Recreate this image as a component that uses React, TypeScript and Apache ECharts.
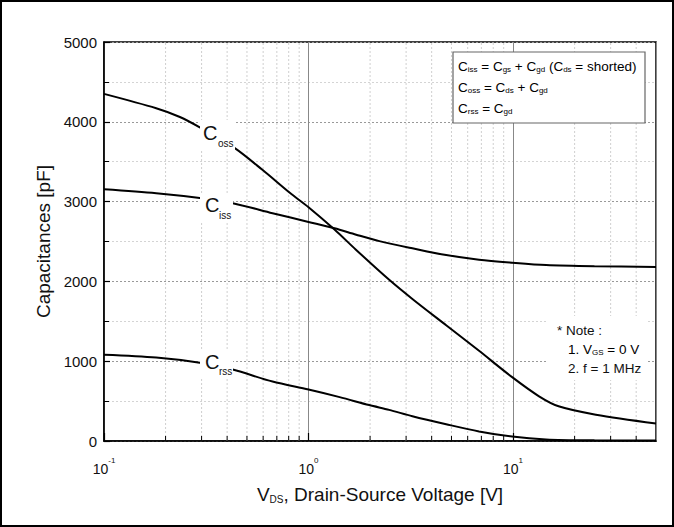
import React, { useEffect, useRef } from "react";
import * as echarts from "echarts";

// Coss curve (V, pF)
const vCoss = [0.1, 0.18, 0.235, 0.294, 0.436, 0.597, 0.81, 1.0, 1.34, 1.7, 2.48, 3.22, 4.71, 6.82, 9.9, 13.4, 16.7, 25.4, 50];
const coss = [4350, 4170, 4060, 3930, 3670, 3395, 3110, 2930, 2650, 2400, 2020, 1780, 1450, 1130, 800, 560, 435, 330, 220];
// Ciss curve
const vCiss = [0.1, 0.18, 0.294, 0.426, 0.667, 1.0, 1.34, 1.71, 2.22, 3.22, 4.71, 6.82, 9.9, 14.5, 25, 50];
const ciss = [3155, 3105, 3045, 2980, 2855, 2745, 2665, 2585, 2505, 2415, 2330, 2272, 2235, 2205, 2190, 2182];
// Crss curve
const vCrss = [0.1, 0.18, 0.294, 0.426, 0.667, 1.0, 1.42, 1.98, 2.48, 3.22, 4.71, 6.82, 9.9, 14.5, 25, 50];
const crss = [1080, 1045, 980, 895, 745, 645, 550, 450, 390, 310, 210, 120, 55, 20, 8, 5];

// minor x ticks (log axis)
const xMinor = [0.2, 0.3, 0.4, 0.5, 0.6, 0.7, 0.8, 0.9, 2, 3, 4, 5, 6, 7, 8, 9, 20, 30, 40];

const X_MIN = 0.1;
const X_MAX = 50;
const Y_MIN = 0;
const Y_MAX = 5000;
const Y_STEP = 1000;

const FONT = "'Liberation Sans', Arial, sans-serif";

const zip = (xs: number[], ys: number[]) => xs.map((x, i) => [x, ys[i]]);

export default function App() {
  const ref = useRef<HTMLDivElement>(null);
  useEffect(() => {
    document.body.style.margin = "0";
    const chart = echarts.init(ref.current!, null, { renderer: "svg" });
    const lineSeries = (data: number[][]) => ({
      type: "line",
      data,
      smooth: 0.3,
      showSymbol: false,
      symbol: "none",
      z: 3,
      lineStyle: { color: "#000", width: 2 },
    });
    const sub = (main: number, s: number, p: number) => ({
      m: { fontSize: main, fontFamily: FONT, color: "#111" },
      s: { fontSize: s, fontFamily: FONT, color: "#111", padding: [p, 0, 0, 0] },
    });
    const formulaRich = sub(13.5, 8, 7);
    const option: any = {
      animation: false,
      backgroundColor: "#fff",
      grid: {
        left: 104,
        right: 18,
        top: 42,
        bottom: 86,
        show: true,
        borderColor: "#000",
        borderWidth: 1.5,
        backgroundColor: "transparent",
      },
      xAxis: {
        type: "log",
        logBase: 10,
        min: X_MIN,
        max: X_MAX,
        axisLine: { lineStyle: { color: "#000", width: 1.5 } },
        axisTick: { inside: true, length: 8, lineStyle: { color: "#000", width: 1.2 } },
        axisLabel: {
          margin: 15,
          showMaxLabel: false,
          formatter: (v: number) => {
            const e = Math.round(Math.log10(v));
            if (Math.abs(v - Math.pow(10, e)) > 1e-6 * Math.pow(10, e)) return "";
            return `{b|10}{s|${e}}`;
          },
          rich: {
            b: { fontSize: 14, lineHeight: 20, fontFamily: FONT, color: "#111", verticalAlign: "bottom" },
            s: { fontSize: 8, lineHeight: 8, fontFamily: FONT, color: "#111", verticalAlign: "top" },
          },
        },
        splitLine: { show: true, lineStyle: { color: "#888", width: 1 } },
        name: "{m|V}{s|DS}{m|, Drain-Source Voltage [V]}",
        nameLocation: "middle",
        nameGap: 43,
        nameTextStyle: { rich: sub(19, 10, 10) },
      },
      yAxis: {
        type: "value",
        min: Y_MIN,
        max: Y_MAX,
        interval: Y_STEP,
        axisLine: { show: true, lineStyle: { color: "#000", width: 1.5 } },
        axisTick: { show: true, inside: true, length: 6, lineStyle: { color: "#000", width: 1.2 } },
        minorTick: { show: true, splitNumber: 2, length: 5, lineStyle: { color: "#000", width: 1 } },
        axisLabel: {
          margin: 7,
          fontSize: 15,
          fontFamily: FONT,
          color: "#111",
          formatter: (v: number) => String(v),
        },
        splitLine: { show: true, lineStyle: { color: "#999", width: 1, type: [2, 2] } },
        minorSplitLine: { show: true, lineStyle: { color: "#d4d4d4", width: 1, type: [2, 2] } },
        name: "Capacitances [pF]",
        nameLocation: "middle",
        nameGap: 51,
        nameTextStyle: { fontSize: 19, fontFamily: FONT, color: "#111" },
      },
      series: [
        {
          type: "custom",
          silent: true,
          z: 1,
          data: xMinor.map((v) => [v, Y_MIN]),
          encode: { x: 0, y: 1 },
          renderItem: (_p: any, api: any) => {
            const v = api.value(0);
            const b = api.coord([v, Y_MIN]);
            const t = api.coord([v, Y_MAX]);
            return {
              type: "group",
              children: [
                {
                  type: "line",
                  shape: { x1: b[0], y1: b[1], x2: t[0], y2: t[1] },
                  style: { stroke: "#cfcfcf", lineWidth: 1, lineDash: [2, 2] },
                },
                {
                  type: "line",
                  shape: { x1: b[0], y1: b[1], x2: b[0], y2: b[1] - 5 },
                  style: { stroke: "#000", lineWidth: 1 },
                },
              ],
            };
          },
        },
        lineSeries(zip(vCoss, coss)),
        lineSeries(zip(vCiss, ciss)),
        lineSeries(zip(vCrss, crss)),
      ],
      graphic: [
        // white gaps behind curve labels
        { type: "rect", z: 50, shape: { x: 200, y: 120, width: 35, height: 31 }, style: { fill: "#fff" } },
        { type: "rect", z: 50, shape: { x: 200, y: 194, width: 33, height: 28 }, style: { fill: "#fff" } },
        { type: "rect", z: 50, shape: { x: 200, y: 351, width: 33, height: 27 }, style: { fill: "#fff" } },
        // curve labels
        { type: "text", z: 51, x: 203, y: 133, style: { text: "C", fontSize: 20, fontFamily: FONT, fill: "#111", verticalAlign: "middle" } },
        { type: "text", z: 51, x: 218, y: 143, style: { text: "oss", fontSize: 10, fontFamily: FONT, fill: "#111", verticalAlign: "middle" } },
        { type: "text", z: 51, x: 205, y: 205, style: { text: "C", fontSize: 20, fontFamily: FONT, fill: "#111", verticalAlign: "middle" } },
        { type: "text", z: 51, x: 219, y: 215, style: { text: "iss", fontSize: 10, fontFamily: FONT, fill: "#111", verticalAlign: "middle" } },
        { type: "text", z: 51, x: 205, y: 362, style: { text: "C", fontSize: 20, fontFamily: FONT, fill: "#111", verticalAlign: "middle" } },
        { type: "text", z: 51, x: 219, y: 371, style: { text: "rss", fontSize: 10, fontFamily: FONT, fill: "#111", verticalAlign: "middle" } },
        // formula box
        { type: "rect", z: 50, shape: { x: 453, y: 52, width: 192, height: 71 }, style: { fill: "#fff", stroke: "#666", lineWidth: 1.2 } },
        {
          type: "text", z: 51, x: 458, y: 66,
          style: { text: "{m|C}{s|iss}{m| = C}{s|gs}{m| + C}{s|gd}{m| (C}{s|ds}{m| = shorted)}", rich: formulaRich, verticalAlign: "middle" },
        },
        {
          type: "text", z: 51, x: 458, y: 87,
          style: { text: "{m|C}{s|oss}{m| = C}{s|ds}{m| + C}{s|gd}", rich: formulaRich, verticalAlign: "middle" },
        },
        {
          type: "text", z: 51, x: 458, y: 108,
          style: { text: "{m|C}{s|rss}{m| = C}{s|gd}", rich: formulaRich, verticalAlign: "middle" },
        },
        // note block
        { type: "rect", z: 50, shape: { x: 548, y: 316, width: 100, height: 64 }, style: { fill: "#fff" } },
        { type: "text", z: 51, x: 557, y: 330, style: { text: "* Note :", fontSize: 13.5, fontFamily: FONT, fill: "#111", verticalAlign: "middle" } },
        {
          type: "text", z: 51, x: 568, y: 349,
          style: { text: "{m|1. V}{s|GS}{m| = 0 V}", rich: formulaRich, verticalAlign: "middle" },
        },
        { type: "text", z: 51, x: 568, y: 368, style: { text: "2. f = 1 MHz", fontSize: 13.5, fontFamily: FONT, fill: "#111", verticalAlign: "middle" } },
        // outer frame
        { type: "rect", z: 60, shape: { x: 1, y: 1, width: 672, height: 525 }, style: { fill: "none", stroke: "#000", lineWidth: 2 } },
      ],
    };
    chart.setOption(option);
    return () => chart.dispose();
  }, []);
  return <div ref={ref} style={{ position: "absolute", left: 0, top: 0, width: 674, height: 527 }} />;
}
